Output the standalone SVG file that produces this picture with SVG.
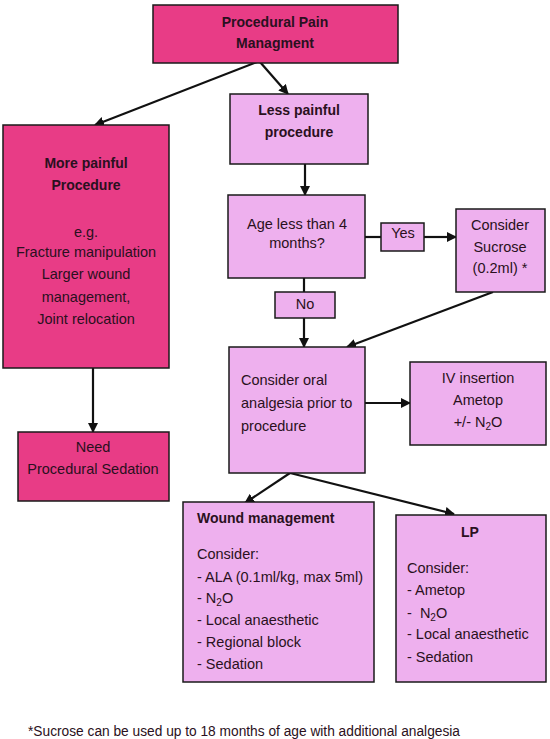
<svg xmlns="http://www.w3.org/2000/svg" width="550" height="739" viewBox="0 0 550 739">
<style>
.hot{fill:#E83C86;stroke:#1a1a1a;stroke-width:1.5}
.lt{fill:#EEB0EE;stroke:#1a1a1a;stroke-width:1.5}
text{font-family:"Liberation Sans",Arial,sans-serif;font-size:14.5px;fill:#2a1020}
.b{font-weight:bold;font-size:14px}
.c{text-anchor:middle}
.sub{font-size:10px}
.ln{stroke:#111;stroke-width:2.2;fill:none}
</style>
<defs>
<marker id="ah" markerWidth="10" markerHeight="10" refX="9" refY="5" orient="auto" markerUnits="userSpaceOnUse">
<path d="M0,0 L10,5 L0,10 z" fill="#111"/>
</marker>
</defs>
<rect width="550" height="739" fill="#fff"/>
<g id="connectors">
<line class="ln" x1="257" y1="62" x2="95" y2="125" marker-end="url(#ah)"/>
<line class="ln" x1="260" y1="62" x2="288" y2="94" marker-end="url(#ah)"/>
<line class="ln" x1="305" y1="164" x2="305" y2="195" marker-end="url(#ah)"/>
<line class="ln" x1="365" y1="237" x2="381" y2="237"/>
<line class="ln" x1="424" y1="237" x2="456" y2="237" marker-end="url(#ah)"/>
<line class="ln" x1="304" y1="278" x2="304" y2="292"/>
<line class="ln" x1="304" y1="318" x2="304" y2="347" marker-end="url(#ah)"/>
<line class="ln" x1="493" y1="292" x2="347" y2="347" marker-end="url(#ah)"/>
<line class="ln" x1="365" y1="403" x2="410" y2="403" marker-end="url(#ah)"/>
<line class="ln" x1="93" y1="368" x2="93" y2="432" marker-end="url(#ah)"/>
<line class="ln" x1="290" y1="473" x2="245" y2="503" marker-end="url(#ah)"/>
<line class="ln" x1="290" y1="473" x2="454" y2="514" marker-end="url(#ah)"/>
</g>
<g id="top">
<rect class="hot" x="153" y="5" width="245" height="58"/>
<text class="b c" x="275" y="27">Procedural Pain</text>
<text class="b c" x="275" y="48">Managment</text>
</g>
<g id="more">
<rect class="hot" x="3" y="125" width="166" height="243"/>
<text class="b c" x="86" y="168">More painful</text>
<text class="b c" x="86" y="190">Procedure</text>
<text class="c" x="86" y="237">e.g.</text>
<text class="c" x="86" y="257">Fracture manipulation</text>
<text class="c" x="86" y="279">Larger wound</text>
<text class="c" x="86" y="302">management,</text>
<text class="c" x="86" y="324">Joint relocation</text>
</g>
<g id="need">
<rect class="hot" x="18" y="432" width="151" height="69"/>
<text class="c" x="93" y="452">Need</text>
<text class="c" x="93" y="474">Procedural Sedation</text>
</g>
<g id="less">
<rect class="lt" x="230" y="94" width="138" height="70"/>
<text class="b c" x="299" y="115">Less painful</text>
<text class="b c" x="299" y="137">procedure</text>
</g>
<g id="age">
<rect class="lt" x="228" y="195" width="137" height="83"/>
<text class="c" x="297" y="229">Age less than 4</text>
<text class="c" x="297" y="248">months?</text>
</g>
<g id="yes">
<rect class="lt" x="381" y="223" width="43" height="28"/>
<text class="c" x="403" y="238">Yes</text>
</g>
<g id="sucrose">
<rect class="lt" x="456" y="209" width="89" height="83"/>
<text class="c" x="500" y="230">Consider</text>
<text class="c" x="500" y="252">Sucrose</text>
<text class="c" x="500" y="273">(0.2ml) *</text>
</g>
<g id="no">
<rect class="lt" x="275" y="292" width="60" height="26"/>
<text class="c" x="305" y="309">No</text>
</g>
<g id="oral">
<rect class="lt" x="229" y="347" width="136" height="126"/>
<text x="241" y="385">Consider oral</text>
<text x="241" y="408">analgesia prior to</text>
<text x="241" y="431">procedure</text>
</g>
<g id="iv">
<rect class="lt" x="410" y="362" width="136" height="83"/>
<text class="c" x="478" y="383">IV insertion</text>
<text class="c" x="478" y="405">Ametop</text>
<text class="c" x="478" y="427">+/- N<tspan class="sub" dy="3">2</tspan><tspan dy="-3">O</tspan></text>
</g>
<g id="wound">
<rect class="lt" x="183" y="502" width="191" height="180"/>
<text class="b" x="197" y="523">Wound management</text>
<text x="197" y="559">Consider:</text>
<text x="197" y="582">- ALA (0.1ml/kg, max 5ml)</text>
<text x="197" y="603">- N<tspan class="sub" dy="3">2</tspan><tspan dy="-3">O</tspan></text>
<text x="197" y="625">- Local anaesthetic</text>
<text x="197" y="647">- Regional block</text>
<text x="197" y="669">- Sedation</text>
</g>
<g id="lp">
<rect class="lt" x="396" y="515" width="150" height="167"/>
<text class="b c" x="470" y="537">LP</text>
<text x="407" y="573">Consider:</text>
<text x="407" y="595">- Ametop</text>
<text x="407" y="618" xml:space="preserve">-  N<tspan class="sub" dy="3">2</tspan><tspan dy="-3">O</tspan></text>
<text x="407" y="639">- Local anaesthetic</text>
<text x="407" y="662">- Sedation</text>
</g>
<g id="footnote">
<text x="28" y="736" style="font-size:15.5px" textLength="432" lengthAdjust="spacingAndGlyphs">*Sucrose can be used up to 18 months of age with additional analgesia</text>
</g>
</svg>
